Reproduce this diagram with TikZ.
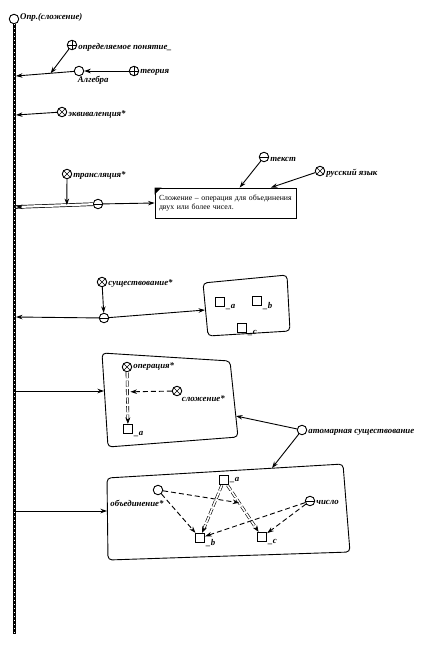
\documentclass[tikz,border=0pt]{standalone}
\usepackage{fontspec}
\setmainfont{Liberation Serif}
\usetikzlibrary{arrows.meta,calc}

\begin{document}
\begin{tikzpicture}[x=1pt,y=-1pt,
    lbl/.style={font=\fontsize{8.8}{9}\selectfont\itshape\bfseries,inner sep=1pt},
    cnode/.style={circle,draw,line width=0.9pt,fill=white,minimum size=9.5pt,inner sep=0pt},
    cplus/.style={cnode,path picture={\draw[line width=0.6pt]
        (path picture bounding box.west)--(path picture bounding box.east)
        (path picture bounding box.north)--(path picture bounding box.south);}},
    cminus/.style={cnode,path picture={\draw[line width=0.6pt]
        (path picture bounding box.west)--(path picture bounding box.east);}},
    ctimes/.style={cnode,path picture={\draw[line width=0.6pt]
        (path picture bounding box.center)+(45:5pt)--+(225:5pt)
        (path picture bounding box.center)+(135:5pt)--+(315:5pt);}},
    sq/.style={draw,line width=0.9pt,fill=white,minimum size=9.5pt,inner sep=0pt},
    frame/.style={line width=0.9pt,rounded corners=4pt},
    arr/.style={-{Stealth[length=6.5pt,width=4.5pt]},line width=0.9pt},
    darr/.style={arr,dash pattern=on 5pt off 3pt},
    ddbl/.style={-{Stealth[length=6.5pt,width=5pt]},double,double distance=1.6pt,line width=0.6pt,dash pattern=on 6pt off 2.5pt}
]
\useasboundingbox (0,0) rectangle (432,646);

% главная ось
\node[cnode] (top) at (14,19) {};
\node[lbl,anchor=west] at (19,17) {Опр.(сложение)};
\coordinate (bot) at (14,634);
\draw[line width=3pt] (top.south) -- (bot);
\draw[white,line width=0.5pt,dash pattern=on 1pt off 3pt] (top.south) -- (bot);
\coordinate (m1) at (16,76);
\coordinate (m2) at (16,115);
\coordinate (m3) at (16,207);
\coordinate (m4) at (16,317);
\coordinate (m5) at (16,391);
\coordinate (m6) at (16,511);

\node[cplus,label={[lbl,yshift=-2pt]right:определяемое понятие\_}] (defn) at (72,45) {};
\node[cnode,label={[lbl,xshift=-6pt]below right:Алгебра}] (alg) at (79,71) {};
\node[cplus,label={[lbl,yshift=-1pt]right:теория}] (theo) at (134,71) {};
\draw[arr] (theo) -- (alg);
\draw[arr] (alg) -- (m1);
\coordinate (j1) at ($(alg)!0.45!(m1)$);
\draw[arr] (defn) -- (j1);

\node[ctimes,label={[lbl,yshift=-2pt]right:эквиваленция*}] (equiv) at (62,112) {};
\draw[arr] (equiv) -- (m2);

\node[cminus] (op1) at (98,204) {};
\node[ctimes,label={[lbl,yshift=-2pt]right:трансляция*}] (trans) at (67,174) {};
\draw[double,double distance=2.2pt,line width=0.7pt] (op1) -- (m3);
\draw[arr] ($(m3)!6pt!(op1)$) -- (m3);
\coordinate (j3) at ($(op1)!0.38!(m3)$);
\draw[arr] (trans) -- (j3);
\node[draw,line width=0.9pt,minimum width=141pt,minimum height=30pt,text width=133pt,
    align=left,font=\fontsize{7.8}{9}\selectfont] (def) at (225.5,203)
    {Сложение – операция для объединения двух или более чисел.};
\fill (def.north west) -- ++(7,0) -- ++(-7,7) -- cycle;
\draw[arr] (op1) -- (def.west);
\node[cminus,label={[lbl,yshift=-2pt]right:текст}] (txt) at (264,157) {};
\node[ctimes,label={[lbl,yshift=-2pt]right:русский язык}] (rus) at (320,171) {};
\draw[arr] (txt) -- ($(def.north west)!0.6!(def.north east)$);
\draw[arr] (rus) -- ($(def.north west)!0.82!(def.north east)$);

% существование
\draw[frame] (203,283) -- (287,275) -- (290,331) -- (208,336) -- cycle;
\node[sq,label={[lbl,anchor=west]south east:\_a}] (a2) at (220,302) {};
\node[sq,label={[lbl,anchor=west]south east:\_b}] (b2) at (257,301) {};
\node[sq,label={[lbl,anchor=west]south east:\_c}] (c2) at (242,328) {};
\node[ctimes,label={[lbl,yshift=-2pt]right:существование*}] (exist) at (102,282) {};
\node[cminus] (op2) at (104,318) {};
\coordinate (b2in) at (205,310);
\draw[arr] (exist) -- (op2);
\draw[arr] (op2) -- (m4);
\draw[arr] (op2) -- (b2in);

% операция
\draw[frame] (102,353) -- (230,361) -- (238,437) -- (108,447) -- cycle;
\node[ctimes,label={[lbl]right:операция*}] (oper) at (127,367) {};
\node[sq,label={[lbl,anchor=west]south east:\_a}] (a3) at (128,429) {};
\node[ctimes,label={[lbl]below right:сложение*}] (slozh) at (177,391) {};
\draw[ddbl] (oper) -- (a3);
\coordinate (j5) at ($(oper)!0.4!(a3)$);
\draw[darr] (slozh) -- ([xshift=3pt]j5);
\coordinate (b3in) at (104,391);
\draw[arr] (m5) -- (b3in);

% атомарная существование
\node[cnode,label={[lbl,yshift=-2pt]right:атомарная существование}] (atom) at (302,430) {};
\coordinate (b3out) at (236,416);
\coordinate (b4top) at (272,468);
\draw[arr] (atom) -- (b3out);
\draw[arr] (atom) -- (b4top);

% объединение
\draw[frame] (107,478) -- (343,464) -- (350,552) -- (108,560) -- cycle;
\coordinate (b4in) at (107,511);
\draw[arr] (m6) -- (b4in);
\node[cnode] (uni) at (158,490) {};
\node[lbl] at (137,503) {объединение*};
\node[sq,label={[lbl]right:\_a}] (a4) at (224,480) {};
\node[sq,label={[lbl,anchor=west]south east:\_b}] (b4) at (200,538) {};
\node[sq,label={[lbl,anchor=west]south east:\_c}] (c4) at (262,537) {};
\node[cminus,label={[lbl,yshift=-1pt]right:число}] (num) at (310,501) {};
\draw[ddbl] (a4) -- (b4);
\draw[ddbl] (a4) -- (c4);
\coordinate (j6) at ($(a4)!0.4!(c4)$);
\draw[darr] (uni) -- (b4);
\draw[darr] (uni) -- (j6);
\draw[darr] (num) -- (b4);
\draw[darr] (num) -- (c4);
\end{tikzpicture}
\end{document}
